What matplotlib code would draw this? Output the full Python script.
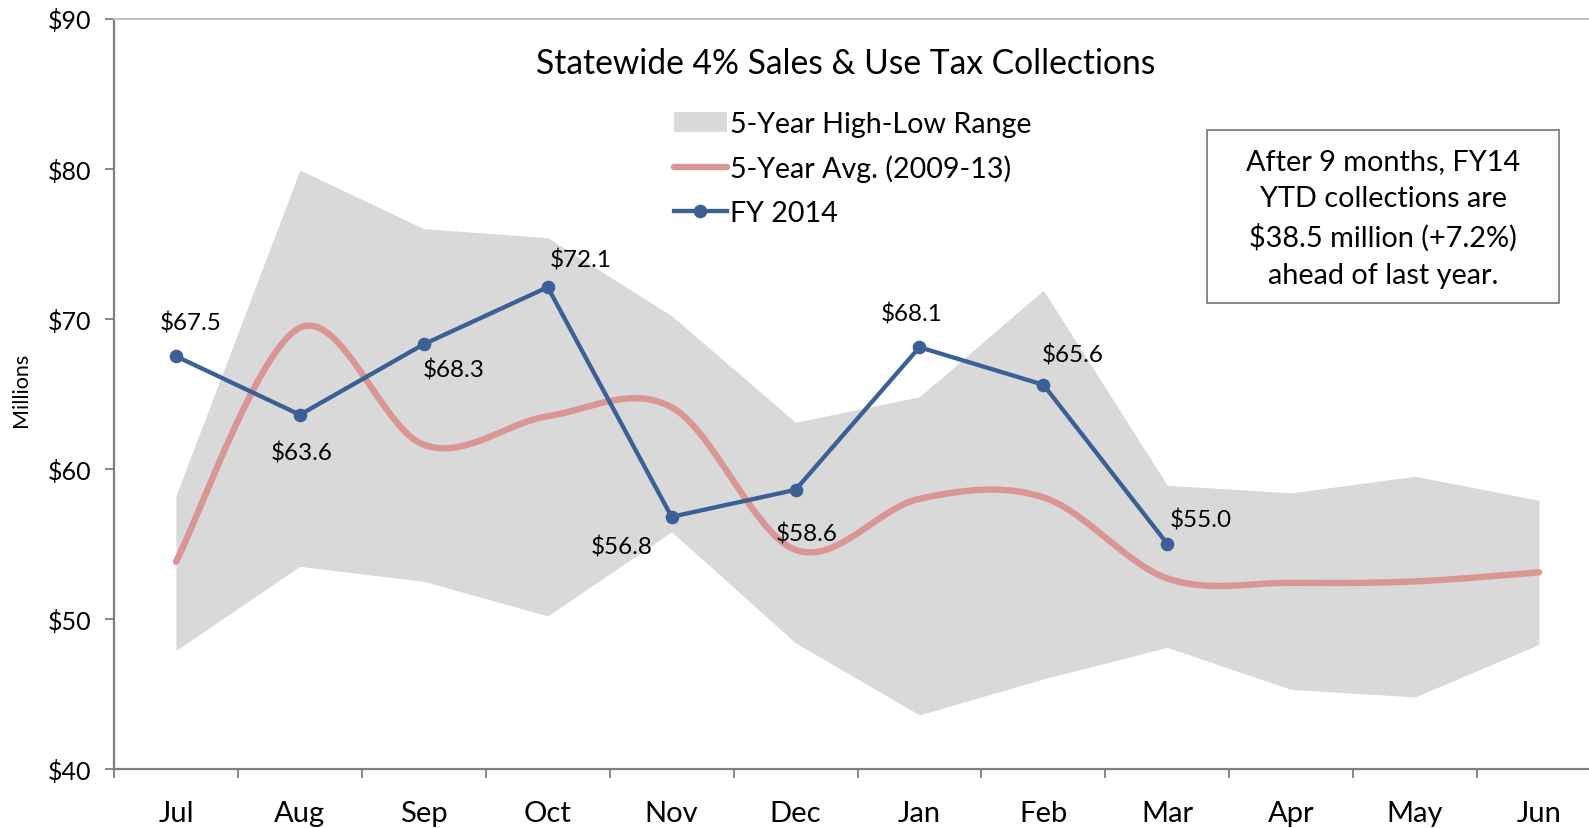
import numpy as np
import matplotlib
matplotlib.use("Agg")
import matplotlib.pyplot as plt
from matplotlib.patches import Patch, Rectangle
from matplotlib.lines import Line2D

plt.rcParams['font.family'] = ['Lato', 'DejaVu Sans']

months = ["Jul", "Aug", "Sep", "Oct", "Nov", "Dec", "Jan", "Feb", "Mar", "Apr", "May", "Jun"]
range_high = [58.2, 79.9, 76.0, 75.4, 70.2, 63.1, 64.8, 71.9, 58.9, 58.4, 59.5, 57.9]
range_low = [47.9, 53.5, 52.5, 50.2, 55.8, 48.4, 43.6, 46.0, 48.1, 45.3, 44.8, 48.3]
avg_5yr = [53.8, 69.4, 61.6, 63.5, 64.1, 54.6, 58.0, 58.1, 52.7, 52.4, 52.5, 53.1]
fy2014 = [67.5, 63.6, 68.3, 72.1, 56.8, 58.6, 68.1, 65.6, 55.0]
yticks = [40, 50, 60, 70, 80, 90]

# label offsets (pixels) for FY2014 data labels
label_offsets = [(15, 34), (2, -38), (30, -25), (33, 28), (-50, -30), (11, -44), (-8, 34), (29, 30), (34, 24)]

BLUE = "#3B6095"
PINK = "#DA9694"
GRAY = "#D9D9D9"

def excel_smooth(x, y, n=40):
    x = np.asarray(x, float); y = np.asarray(y, float)
    xs, ys = [], []
    N = len(x)
    for i in range(N - 1):
        p0 = np.array([x[max(i - 1, 0)], y[max(i - 1, 0)]])
        p1 = np.array([x[i], y[i]])
        p2 = np.array([x[i + 1], y[i + 1]])
        p3 = np.array([x[min(i + 2, N - 1)], y[min(i + 2, N - 1)]])
        c1 = p1 + (p2 - p0) / 6.0
        c2 = p2 - (p3 - p1) / 6.0
        t = np.linspace(0, 1, n)[:, None]
        pts = ((1 - t) ** 3) * p1 + 3 * ((1 - t) ** 2) * t * c1 + 3 * (1 - t) * t ** 2 * c2 + t ** 3 * p2
        xs.extend(pts[:, 0]); ys.extend(pts[:, 1])
    return np.array(xs), np.array(ys)

W, H = 1589, 829
fig = plt.figure(figsize=(W / 100, H / 100), dpi=100)
ax = fig.add_axes([114 / W, (H - 770) / H, 1487 / W, 750.5 / H])

x = np.arange(len(months))
ax.fill_between(x, range_low, range_high, color=GRAY, linewidth=0, zorder=1)
sx, sy = excel_smooth(x, avg_5yr)
ax.plot(sx, sy, color=PINK, linewidth=4.6, solid_capstyle='round', zorder=2)
xf = np.arange(len(fy2014))
ax.plot(xf, fy2014, color=BLUE, linewidth=3.1, marker='o', markersize=8.8, zorder=3)

for xi, v, off in zip(xf, fy2014, label_offsets):
    ax.annotate(f"${v:.1f}", (xi, v), xytext=off, textcoords='offset pixels',
                ha='center', va='center', fontsize=17.5, color='black', zorder=4)

ax.set_xlim(-0.5, 11.5)
ax.set_ylim(40, 90)
ax.set_yticks(yticks)
ax.set_yticklabels([f"${t}" for t in yticks], fontsize=18)
ax.set_xticks(x)
ax.set_xticklabels(months, fontsize=21)
ax.set_xticks(np.arange(-0.5, 12, 1), minor=True)
ax.tick_params(axis='x', which='major', length=0, pad=22)
ax.tick_params(axis='x', which='minor', length=6.5, width=1.3, color='#7f7f7f', direction='out')
ax.tick_params(axis='y', length=6.5, width=1.3, color='#7f7f7f', pad=10)

for s in ['left', 'bottom']:
    ax.spines[s].set_color('#7f7f7f')
    ax.spines[s].set_linewidth(1.6)
ax.spines['top'].set_color('#c0c0c0')
ax.spines['top'].set_linewidth(1.4)
ax.spines['right'].set_visible(False)

fig.text(21 / W, 1 - 390 / H, "Millions", rotation=90, ha='center', va='center', fontsize=15.5)

fig.text(846 / W, 1 - 64 / H, "Statewide 4% Sales & Use Tax Collections", ha='center', va='center', fontsize=24.2)

handles = [Patch(facecolor=GRAY, edgecolor='none'),
           Line2D([0], [0], color=PINK, linewidth=4.6, solid_capstyle='round'),
           Line2D([0], [0], color=BLUE, linewidth=3.1, marker='o', markersize=8.8)]
labels = ["5-Year High-Low Range", "5-Year Avg. (2009-13)", "FY 2014"]
leg = fig.legend(handles, labels, loc='upper left', bbox_to_anchor=(674 / W, 1 - 112 / H),
                 frameon=False, fontsize=20.6, handlelength=1.85, handletextpad=0.1,
                 labelspacing=0.62, borderpad=0, borderaxespad=0)

fig.patches.append(Rectangle((1207 / W, 1 - 304 / H), 352 / W, 173 / H, transform=fig.transFigure,
                             facecolor='white', edgecolor='#808080', linewidth=1.3, zorder=5))
fig.text(1383 / W, 1 - 219 / H,
         "After 9 months, FY14\nYTD collections are\n$38.5 million (+7.2%)\nahead of last year.",
         ha='center', va='center', fontsize=20.8, linespacing=1.52, zorder=6)

fig.savefig("out.png", dpi=100)
